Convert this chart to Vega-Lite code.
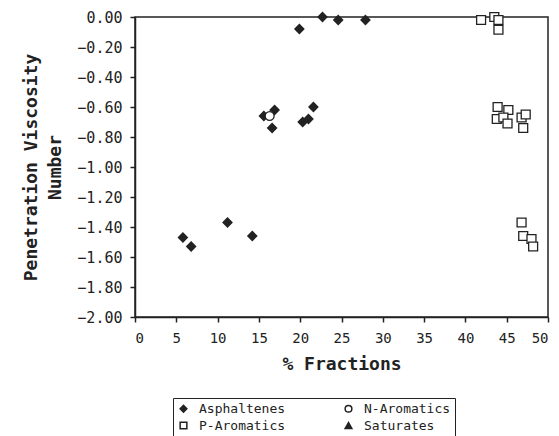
{
  "$schema": "https://vega.github.io/schema/vega-lite/v6.json",
  "autosize": "none",
  "width": 413,
  "height": 300,
  "padding": {"left": 135, "top": 17, "right": 11, "bottom": 119},
  "background": "white",
  "config": {
    "view": {"stroke": "#222", "strokeWidth": 1.5},
    "axis": {
      "grid": false,
      "domainColor": "#222",
      "domainWidth": 1.5,
      "tickColor": "#222",
      "tickWidth": 1.5,
      "tickSize": 5,
      "labelColor": "#222",
      "titleColor": "#222",
      "labelFont": "DejaVu Sans Mono",
      "titleFont": "DejaVu Sans Mono",
      "labelFontSize": 14,
      "titleFontSize": 18,
      "titleFontWeight": "bold"
    },
    "legend": {
      "labelFont": "DejaVu Sans Mono",
      "labelFontSize": 13,
      "labelColor": "#222"
    }
  },
  "data": {
    "values": [
      {"pct": 5.8, "pvn": -1.47, "fraction": "Asphaltenes"},
      {"pct": 6.8, "pvn": -1.53, "fraction": "Asphaltenes"},
      {"pct": 11.2, "pvn": -1.37, "fraction": "Asphaltenes"},
      {"pct": 14.2, "pvn": -1.46, "fraction": "Asphaltenes"},
      {"pct": 15.6, "pvn": -0.66, "fraction": "Asphaltenes"},
      {"pct": 16.9, "pvn": -0.62, "fraction": "Asphaltenes"},
      {"pct": 16.6, "pvn": -0.74, "fraction": "Asphaltenes"},
      {"pct": 20.3, "pvn": -0.70, "fraction": "Asphaltenes"},
      {"pct": 21.0, "pvn": -0.68, "fraction": "Asphaltenes"},
      {"pct": 21.6, "pvn": -0.60, "fraction": "Asphaltenes"},
      {"pct": 19.9, "pvn": -0.08, "fraction": "Asphaltenes"},
      {"pct": 22.7, "pvn": 0.0, "fraction": "Asphaltenes"},
      {"pct": 24.6, "pvn": -0.02, "fraction": "Asphaltenes"},
      {"pct": 27.9, "pvn": -0.02, "fraction": "Asphaltenes"},
      {"pct": 16.3, "pvn": -0.66, "fraction": "N-Aromatics"},
      {"pct": 41.9, "pvn": -0.02, "fraction": "P-Aromatics"},
      {"pct": 43.5, "pvn": 0.0, "fraction": "P-Aromatics"},
      {"pct": 44.0, "pvn": -0.02, "fraction": "P-Aromatics"},
      {"pct": 44.0, "pvn": -0.085, "fraction": "P-Aromatics"},
      {"pct": 43.9, "pvn": -0.60, "fraction": "P-Aromatics"},
      {"pct": 45.2, "pvn": -0.62, "fraction": "P-Aromatics"},
      {"pct": 43.8, "pvn": -0.68, "fraction": "P-Aromatics"},
      {"pct": 44.6, "pvn": -0.67, "fraction": "P-Aromatics"},
      {"pct": 45.1, "pvn": -0.71, "fraction": "P-Aromatics"},
      {"pct": 46.8, "pvn": -0.67, "fraction": "P-Aromatics"},
      {"pct": 47.3, "pvn": -0.65, "fraction": "P-Aromatics"},
      {"pct": 47.0, "pvn": -0.74, "fraction": "P-Aromatics"},
      {"pct": 46.8, "pvn": -1.37, "fraction": "P-Aromatics"},
      {"pct": 47.0, "pvn": -1.46, "fraction": "P-Aromatics"},
      {"pct": 48.0, "pvn": -1.48, "fraction": "P-Aromatics"},
      {"pct": 48.2, "pvn": -1.53, "fraction": "P-Aromatics"}
    ]
  },
  "mark": {"type": "point", "filled": true, "size": 80, "stroke": "#222", "strokeWidth": 1.3, "opacity": 1},
  "encoding": {
    "x": {
      "field": "pct",
      "type": "quantitative",
      "scale": {"domain": [0, 50], "nice": false, "zero": false},
      "axis": {"values": [0, 5, 10, 15, 20, 25, 30, 35, 40, 45, 50], "title": "% Fractions", "labelPadding": 9, "titlePadding": 10}
    },
    "y": {
      "field": "pvn",
      "type": "quantitative",
      "scale": {"domain": [-2, 0], "nice": false, "zero": false},
      "axis": {
        "values": [0, -0.2, -0.4, -0.6, -0.8, -1.0, -1.2, -1.4, -1.6, -1.8, -2.0],
        "format": ".2f",
        "labelFontSize": 15,
        "title": ["Penetration Viscosity", "Number"],
        "titleLineHeight": 24,
        "labelPadding": 8,
        "titlePadding": 12
      }
    },
    "shape": {
      "field": "fraction",
      "type": "nominal",
      "scale": {
        "domain": ["Asphaltenes", "N-Aromatics", "P-Aromatics", "Saturates"],
        "range": ["diamond", "circle", "square", "triangle-up"]
      },
      "legend": {
        "title": null,
        "orient": "none",
        "legendX": 38,
        "legendY": 381,
        "direction": "horizontal",
        "columns": 2,
        "strokeColor": "#222",
        "padding": 4,
        "columnPadding": 56,
        "rowPadding": 3,
        "symbolSize": 45,
        "labelOffset": 9,
        "encode": {
          "symbols": {"update": {"stroke": {"value": "#222"}, "strokeWidth": {"value": 1.2}}}
        }
      }
    },
    "fill": {
      "field": "fraction",
      "type": "nominal",
      "scale": {
        "domain": ["Asphaltenes", "N-Aromatics", "P-Aromatics", "Saturates"],
        "range": ["#222", "white", "white", "#222"]
      },
      "legend": {
        "title": null,
        "orient": "none",
        "legendX": 38,
        "legendY": 381,
        "direction": "horizontal",
        "columns": 2,
        "strokeColor": "#222",
        "padding": 4,
        "columnPadding": 56,
        "rowPadding": 3,
        "symbolSize": 45,
        "labelOffset": 9,
        "encode": {
          "symbols": {"update": {"stroke": {"value": "#222"}, "strokeWidth": {"value": 1.2}}}
        }
      }
    }
  }
}
